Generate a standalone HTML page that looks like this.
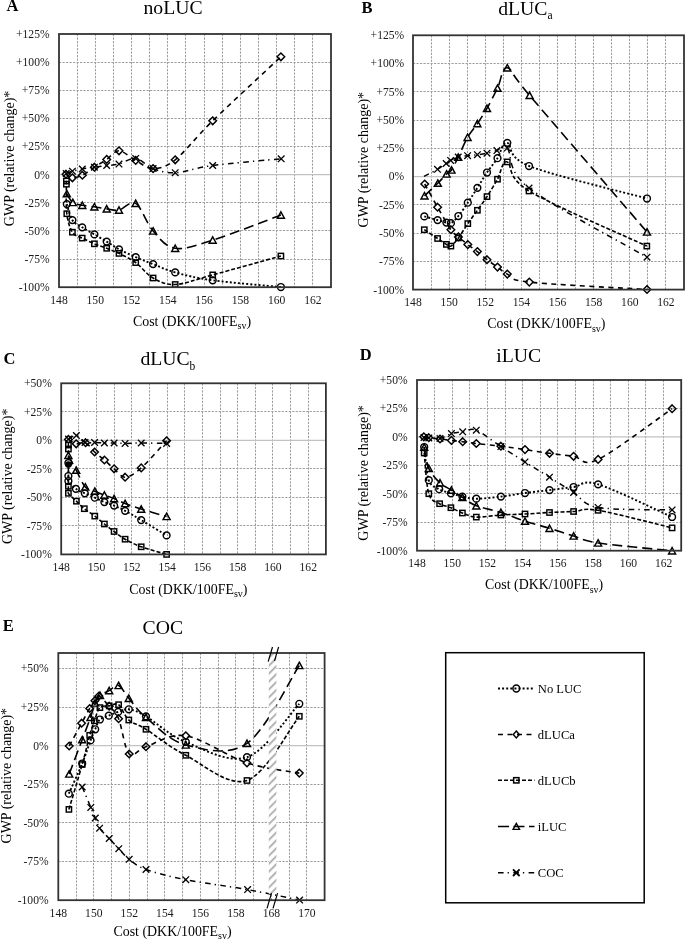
<!DOCTYPE html>
<html><head><meta charset="utf-8"><title>Figure</title>
<style>html,body{margin:0;padding:0;background:#fff;}svg{display:block;will-change:transform;}
text{font-family:"Liberation Serif", serif;}</style></head><body>
<svg width="685" height="940" viewBox="0 0 685 940">
<rect width="685" height="940" fill="#fff"/>
<path d="M77.5 34V287.2M95.5 34V287.2M113.5 34V287.2M131.5 34V287.2M149.5 34V287.2M167.5 34V287.2M185.5 34V287.2M204.5 34V287.2M222.5 34V287.2M240.5 34V287.2M258.5 34V287.2M276.5 34V287.2M294.5 34V287.2M312.5 34V287.2M59 62.5H331M59 90.5H331M59 118.5H331M59 146.5H331M59 202.5H331M59 230.5H331M59 259.5H331" stroke="#9e9e9e" stroke-width="1.05" stroke-dasharray="2.2 1.3" fill="none"/>
<path d="M59 174.67H331" stroke="#c2c2c2" stroke-width="1.3" fill="none"/>
<path d="M66.8 204.1C67.73 206.77 69.83 216.23 72.4 220.1C74.97 223.97 78.53 224.92 82.2 227.3C85.87 229.68 90.32 232.02 94.4 234.4C98.48 236.78 102.6 239.12 106.7 241.6C110.8 244.08 114.17 246.72 119 249.3C123.83 251.88 130.02 254.63 135.7 257.1C141.38 259.57 146.52 261.55 153.1 264.1C159.68 266.65 165.27 269.7 175.2 272.4C185.13 275.1 195.08 277.87 212.7 280.3C230.32 282.73 269.53 285.88 280.9 287" fill="none" stroke="#000" stroke-width="1.9" stroke-dasharray="2 2.1"/>
<path d="M66 174.2C67.07 174.8 69.67 177.63 72.4 177.8C75.13 177.97 78.73 176.97 82.4 175.2C86.07 173.43 90.35 169.83 94.4 167.2C98.45 164.57 102.6 162.13 106.7 159.4C110.8 156.67 114.17 150.63 119 150.8C123.83 150.97 130.02 157.43 135.7 160.4C141.38 163.37 146.52 168.7 153.1 168.6C159.68 168.5 165.27 167.77 175.2 159.8C185.13 151.83 195.08 137.97 212.7 120.8C230.32 103.63 269.53 67.47 280.9 56.8" fill="none" stroke="#000" stroke-width="1.6" stroke-dasharray="5 4.5"/>
<path d="M66.4 181C66.4 181.53 66.33 178.75 66.4 184.2C66.47 189.65 65.8 205.7 66.8 213.7C67.8 221.7 69.83 228.13 72.4 232.2C74.97 236.27 78.53 236.17 82.2 238.1C85.87 240.03 90.32 242.1 94.4 243.8C98.48 245.5 102.6 246.7 106.7 248.3C110.8 249.9 114.17 251.02 119 253.4C123.83 255.78 130.02 258.5 135.7 262.6C141.38 266.7 146.52 274.35 153.1 278C159.68 281.65 165.27 285.02 175.2 284.5C185.13 283.98 195.08 279.65 212.7 274.9C230.32 270.15 269.53 259.15 280.9 256" fill="none" stroke="#000" stroke-width="1.6" stroke-dasharray="4 2"/>
<path d="M66.8 193.7C67.8 195.17 70.22 200.57 72.8 202.5C75.38 204.43 78.7 204.58 82.3 205.3C85.9 206.02 90.33 206.2 94.4 206.8C98.47 207.4 102.6 208.35 106.7 208.9C110.8 209.45 114.17 211.02 119 210.1C123.83 209.18 130.02 199.92 135.7 203.4C141.38 206.88 146.52 223.52 153.1 231C159.68 238.48 165.27 246.78 175.2 248.3C185.13 249.82 195.08 245.63 212.7 240.1C230.32 234.57 269.53 219.27 280.9 215.1" fill="none" stroke="#000" stroke-width="1.6" stroke-dasharray="10 5"/>
<path d="M66.2 173.6C67.23 173.2 69.72 171.97 72.4 171.2C75.08 170.43 78.63 169.67 82.3 169C85.97 168.33 90.33 167.78 94.4 167.2C98.47 166.62 102.6 166.02 106.7 165.5C110.8 164.98 114.17 165.28 119 164.1C123.83 162.92 130.02 157.65 135.7 158.4C141.38 159.15 146.52 166.22 153.1 168.6C159.68 170.98 165.27 173.22 175.2 172.7C185.13 172.18 195.03 167.82 212.7 165.5C230.37 163.18 269.78 159.92 281.2 158.8" fill="none" stroke="#000" stroke-width="1.5" stroke-dasharray="5.6 4 1.3 4.4"/>
<circle cx="66.8" cy="204.1" r="3.4" fill="none" stroke="#000" stroke-width="1.45"/>
<circle cx="72.4" cy="220.1" r="3.4" fill="none" stroke="#000" stroke-width="1.45"/>
<circle cx="82.2" cy="227.3" r="3.4" fill="none" stroke="#000" stroke-width="1.45"/>
<circle cx="94.4" cy="234.4" r="3.4" fill="none" stroke="#000" stroke-width="1.45"/>
<circle cx="106.7" cy="241.6" r="3.4" fill="none" stroke="#000" stroke-width="1.45"/>
<circle cx="119" cy="249.3" r="3.4" fill="none" stroke="#000" stroke-width="1.45"/>
<circle cx="135.7" cy="257.1" r="3.4" fill="none" stroke="#000" stroke-width="1.45"/>
<circle cx="153.1" cy="264.1" r="3.4" fill="none" stroke="#000" stroke-width="1.45"/>
<circle cx="175.2" cy="272.4" r="3.4" fill="none" stroke="#000" stroke-width="1.45"/>
<circle cx="212.7" cy="280.3" r="3.4" fill="none" stroke="#000" stroke-width="1.45"/>
<circle cx="280.9" cy="287" r="3.4" fill="none" stroke="#000" stroke-width="1.45"/>
<path d="M66 170.4L69.8 174.2L66 178L62.2 174.2Z" fill="none" stroke="#000" stroke-width="1.45"/>
<path d="M72.4 174L76.2 177.8L72.4 181.6L68.6 177.8Z" fill="none" stroke="#000" stroke-width="1.45"/>
<path d="M82.4 171.4L86.2 175.2L82.4 179L78.6 175.2Z" fill="none" stroke="#000" stroke-width="1.45"/>
<path d="M94.4 163.4L98.2 167.2L94.4 171L90.6 167.2Z" fill="none" stroke="#000" stroke-width="1.45"/>
<path d="M106.7 155.6L110.5 159.4L106.7 163.2L102.9 159.4Z" fill="none" stroke="#000" stroke-width="1.45"/>
<path d="M119 147L122.8 150.8L119 154.6L115.2 150.8Z" fill="none" stroke="#000" stroke-width="1.45"/>
<path d="M135.7 156.6L139.5 160.4L135.7 164.2L131.9 160.4Z" fill="none" stroke="#000" stroke-width="1.45"/>
<path d="M153.1 164.8L156.9 168.6L153.1 172.4L149.3 168.6Z" fill="none" stroke="#000" stroke-width="1.45"/>
<path d="M175.2 156L179 159.8L175.2 163.6L171.4 159.8Z" fill="none" stroke="#000" stroke-width="1.45"/>
<path d="M212.7 117L216.5 120.8L212.7 124.6L208.9 120.8Z" fill="none" stroke="#000" stroke-width="1.45"/>
<path d="M280.9 53L284.7 56.8L280.9 60.6L277.1 56.8Z" fill="none" stroke="#000" stroke-width="1.45"/>
<rect x="63.75" y="178.35" width="5.3" height="5.3" fill="none" stroke="#000" stroke-width="1.45"/>
<rect x="63.75" y="181.55" width="5.3" height="5.3" fill="none" stroke="#000" stroke-width="1.45"/>
<rect x="64.15" y="211.05" width="5.3" height="5.3" fill="none" stroke="#000" stroke-width="1.45"/>
<rect x="69.75" y="229.55" width="5.3" height="5.3" fill="none" stroke="#000" stroke-width="1.45"/>
<rect x="79.55" y="235.45" width="5.3" height="5.3" fill="none" stroke="#000" stroke-width="1.45"/>
<rect x="91.75" y="241.15" width="5.3" height="5.3" fill="none" stroke="#000" stroke-width="1.45"/>
<rect x="104.05" y="245.65" width="5.3" height="5.3" fill="none" stroke="#000" stroke-width="1.45"/>
<rect x="116.35" y="250.75" width="5.3" height="5.3" fill="none" stroke="#000" stroke-width="1.45"/>
<rect x="133.05" y="259.95" width="5.3" height="5.3" fill="none" stroke="#000" stroke-width="1.45"/>
<rect x="150.45" y="275.35" width="5.3" height="5.3" fill="none" stroke="#000" stroke-width="1.45"/>
<rect x="172.55" y="281.85" width="5.3" height="5.3" fill="none" stroke="#000" stroke-width="1.45"/>
<rect x="210.05" y="272.25" width="5.3" height="5.3" fill="none" stroke="#000" stroke-width="1.45"/>
<rect x="278.25" y="253.35" width="5.3" height="5.3" fill="none" stroke="#000" stroke-width="1.45"/>
<path d="M66.8 190.4L70.3 196.8L63.3 196.8Z" fill="none" stroke="#000" stroke-width="1.45" stroke-linejoin="miter"/>
<path d="M72.8 199.2L76.3 205.6L69.3 205.6Z" fill="none" stroke="#000" stroke-width="1.45" stroke-linejoin="miter"/>
<path d="M82.3 202L85.8 208.4L78.8 208.4Z" fill="none" stroke="#000" stroke-width="1.45" stroke-linejoin="miter"/>
<path d="M94.4 203.5L97.9 209.9L90.9 209.9Z" fill="none" stroke="#000" stroke-width="1.45" stroke-linejoin="miter"/>
<path d="M106.7 205.6L110.2 212L103.2 212Z" fill="none" stroke="#000" stroke-width="1.45" stroke-linejoin="miter"/>
<path d="M119 206.8L122.5 213.2L115.5 213.2Z" fill="none" stroke="#000" stroke-width="1.45" stroke-linejoin="miter"/>
<path d="M135.7 200.1L139.2 206.5L132.2 206.5Z" fill="none" stroke="#000" stroke-width="1.45" stroke-linejoin="miter"/>
<path d="M153.1 227.7L156.6 234.1L149.6 234.1Z" fill="none" stroke="#000" stroke-width="1.45" stroke-linejoin="miter"/>
<path d="M175.2 245L178.7 251.4L171.7 251.4Z" fill="none" stroke="#000" stroke-width="1.45" stroke-linejoin="miter"/>
<path d="M212.7 236.8L216.2 243.2L209.2 243.2Z" fill="none" stroke="#000" stroke-width="1.45" stroke-linejoin="miter"/>
<path d="M280.9 211.8L284.4 218.2L277.4 218.2Z" fill="none" stroke="#000" stroke-width="1.45" stroke-linejoin="miter"/>
<path d="M62.9 170.3L69.5 176.9M62.9 176.9L69.5 170.3" fill="none" stroke="#000" stroke-width="1.3"/>
<path d="M69.1 167.9L75.7 174.5M69.1 174.5L75.7 167.9" fill="none" stroke="#000" stroke-width="1.3"/>
<path d="M79 165.7L85.6 172.3M79 172.3L85.6 165.7" fill="none" stroke="#000" stroke-width="1.3"/>
<path d="M91.1 163.9L97.7 170.5M91.1 170.5L97.7 163.9" fill="none" stroke="#000" stroke-width="1.3"/>
<path d="M103.4 162.2L110 168.8M103.4 168.8L110 162.2" fill="none" stroke="#000" stroke-width="1.3"/>
<path d="M115.7 160.8L122.3 167.4M115.7 167.4L122.3 160.8" fill="none" stroke="#000" stroke-width="1.3"/>
<path d="M132.4 155.1L139 161.7M132.4 161.7L139 155.1" fill="none" stroke="#000" stroke-width="1.3"/>
<path d="M149.8 165.3L156.4 171.9M149.8 171.9L156.4 165.3" fill="none" stroke="#000" stroke-width="1.3"/>
<path d="M171.9 169.4L178.5 176M171.9 176L178.5 169.4" fill="none" stroke="#000" stroke-width="1.3"/>
<path d="M209.4 162.2L216 168.8M209.4 168.8L216 162.2" fill="none" stroke="#000" stroke-width="1.3"/>
<path d="M277.9 155.5L284.5 162.1M277.9 162.1L284.5 155.5" fill="none" stroke="#000" stroke-width="1.3"/>
<rect x="59" y="34" width="272" height="253.2" fill="none" stroke="#333" stroke-width="1.8"/>
<text x="49.6" y="37.9" text-anchor="end" font-size="11.6" fill="#1a1a1a">+125%</text>
<text x="49.6" y="66.03" text-anchor="end" font-size="11.6" fill="#1a1a1a">+100%</text>
<text x="49.6" y="94.17" text-anchor="end" font-size="11.6" fill="#1a1a1a">+75%</text>
<text x="49.6" y="122.3" text-anchor="end" font-size="11.6" fill="#1a1a1a">+50%</text>
<text x="49.6" y="150.43" text-anchor="end" font-size="11.6" fill="#1a1a1a">+25%</text>
<text x="49.6" y="178.57" text-anchor="end" font-size="11.6" fill="#1a1a1a">0%</text>
<text x="49.6" y="206.7" text-anchor="end" font-size="11.6" fill="#1a1a1a">-25%</text>
<text x="49.6" y="234.83" text-anchor="end" font-size="11.6" fill="#1a1a1a">-50%</text>
<text x="49.6" y="262.97" text-anchor="end" font-size="11.6" fill="#1a1a1a">-75%</text>
<text x="49.6" y="291.1" text-anchor="end" font-size="11.6" fill="#1a1a1a">-100%</text>
<text x="59" y="304" text-anchor="middle" font-size="11.6" fill="#1a1a1a">148</text>
<text x="95.27" y="304" text-anchor="middle" font-size="11.6" fill="#1a1a1a">150</text>
<text x="131.53" y="304" text-anchor="middle" font-size="11.6" fill="#1a1a1a">152</text>
<text x="167.8" y="304" text-anchor="middle" font-size="11.6" fill="#1a1a1a">154</text>
<text x="204.07" y="304" text-anchor="middle" font-size="11.6" fill="#1a1a1a">156</text>
<text x="240.33" y="304" text-anchor="middle" font-size="11.6" fill="#1a1a1a">158</text>
<text x="276.6" y="304" text-anchor="middle" font-size="11.6" fill="#1a1a1a">160</text>
<text x="312.87" y="304" text-anchor="middle" font-size="11.6" fill="#1a1a1a">162</text>
<text x="6.6" y="10.9" font-size="16.5" font-weight="bold">A</text>
<text x="173" y="13.8" text-anchor="middle" font-size="19.7">noLUC</text>
<text x="133" y="325.8" font-size="13.9" fill="#000">Cost (DKK/100FE<tspan font-size="10.01" dy="3.2">sv</tspan><tspan dy="-3.2">)</tspan></text>
<text transform="translate(14.1 158.4) rotate(-90)" text-anchor="middle" font-size="14" fill="#000">GWP (relative change)*</text>
<path d="M431.5 35.3V289.6M449.5 35.3V289.6M467.5 35.3V289.6M485.5 35.3V289.6M503.5 35.3V289.6M521.5 35.3V289.6M539.5 35.3V289.6M557.5 35.3V289.6M575.5 35.3V289.6M593.5 35.3V289.6M611.5 35.3V289.6M629.5 35.3V289.6M647.5 35.3V289.6M665.5 35.3V289.6M413 63.5H684M413 91.5H684M413 120.5H684M413 148.5H684M413 204.5H684M413 233.5H684M413 261.5H684" stroke="#9e9e9e" stroke-width="1.05" stroke-dasharray="2.2 1.3" fill="none"/>
<path d="M413 176.58H684" stroke="#c2c2c2" stroke-width="1.3" fill="none"/>
<path d="M424.3 216.4C426.52 217.02 433.92 219.07 437.6 220.1C441.28 221.13 444.18 222.08 446.4 222.6C448.62 223.12 448.9 224.3 450.9 223.2C452.9 222.1 455.58 219.42 458.4 216C461.22 212.58 464.63 207.4 467.8 202.7C470.97 198 474.2 192.83 477.4 187.8C480.6 182.77 483.65 177.43 487 172.5C490.35 167.57 494.12 163.15 497.5 158.2C500.88 153.25 502.05 141.5 507.3 142.8C512.55 144.1 505.72 156.72 529 166C552.28 175.28 627.33 193.08 647 198.5" fill="none" stroke="#000" stroke-width="1.9" stroke-dasharray="2 2.1"/>
<path d="M424.7 184C426.85 187.87 433.23 199.58 437.6 207.2C441.97 214.82 447.43 224.75 450.9 229.7C454.37 234.65 455.58 234.42 458.4 236.9C461.22 239.38 464.63 242.15 467.8 244.6C470.97 247.05 474.2 249.08 477.4 251.6C480.6 254.12 483.65 257.12 487 259.7C490.35 262.28 494.12 264.7 497.5 267.1C500.88 269.5 502 271.6 507.3 274.1C512.6 276.6 506.02 279.53 529.3 282.1C552.58 284.67 627.38 288.27 647 289.5" fill="none" stroke="#000" stroke-width="1.6" stroke-dasharray="5 4.5"/>
<path d="M424.3 229.7C426.52 231.17 433.92 236.05 437.6 238.5C441.28 240.95 444.18 243.13 446.4 244.4C448.62 245.67 448.9 247.18 450.9 246.1C452.9 245.02 455.58 241.65 458.4 237.9C461.22 234.15 464.63 228.2 467.8 223.6C470.97 219 474.2 214.8 477.4 210.3C480.6 205.8 483.65 201.78 487 196.6C490.35 191.42 494.12 184.98 497.5 179.2C500.88 173.42 502.05 159.93 507.3 161.9C512.55 163.87 505.75 176.97 529 191C552.25 205.03 627.17 236.92 646.8 246.1" fill="none" stroke="#000" stroke-width="1.6" stroke-dasharray="4 2"/>
<path d="M424.5 195.8C426.72 193.7 434.12 186.83 437.8 183.2C441.48 179.57 444.32 176.2 446.6 174C448.88 171.8 449.57 172.8 451.5 170C453.43 167.2 455.52 162.65 458.2 157.2C460.88 151.75 464.4 142.9 467.6 137.3C470.8 131.7 474.17 128.43 477.4 123.6C480.63 118.77 483.65 114.2 487 108.3C490.35 102.4 494.12 94.95 497.5 88.2C500.88 81.45 501.95 66.6 507.3 67.8C512.65 69 506.32 68.03 529.6 95.4C552.88 122.77 627.43 209.23 647 232" fill="none" stroke="#000" stroke-width="1.6" stroke-dasharray="10 5"/>
<path d="M424 176.4C426.25 175.22 433.8 171.45 437.5 169.3C441.2 167.15 444.02 164.98 446.2 163.5C448.38 162.02 448.6 161.48 450.6 160.4C452.6 159.32 455.37 157.78 458.2 157C461.03 156.22 464.4 156.08 467.6 155.7C470.8 155.32 474.17 155.12 477.4 154.7C480.63 154.28 483.75 153.88 487 153.2C490.25 152.52 493.52 151.45 496.9 150.6C500.28 149.75 501.95 141.87 507.3 148.1C512.65 154.33 505.72 169.82 529 188C552.28 206.18 627.33 245.67 647 257.2" fill="none" stroke="#000" stroke-width="1.5" stroke-dasharray="5.6 4 1.3 4.4"/>
<circle cx="424.3" cy="216.4" r="3.4" fill="none" stroke="#000" stroke-width="1.45"/>
<circle cx="437.6" cy="220.1" r="3.4" fill="none" stroke="#000" stroke-width="1.45"/>
<circle cx="446.4" cy="222.6" r="3.4" fill="none" stroke="#000" stroke-width="1.45"/>
<circle cx="450.9" cy="223.2" r="3.4" fill="none" stroke="#000" stroke-width="1.45"/>
<circle cx="458.4" cy="216" r="3.4" fill="none" stroke="#000" stroke-width="1.45"/>
<circle cx="467.8" cy="202.7" r="3.4" fill="none" stroke="#000" stroke-width="1.45"/>
<circle cx="477.4" cy="187.8" r="3.4" fill="none" stroke="#000" stroke-width="1.45"/>
<circle cx="487" cy="172.5" r="3.4" fill="none" stroke="#000" stroke-width="1.45"/>
<circle cx="497.5" cy="158.2" r="3.4" fill="none" stroke="#000" stroke-width="1.45"/>
<circle cx="507.3" cy="142.8" r="3.4" fill="none" stroke="#000" stroke-width="1.45"/>
<circle cx="529" cy="166" r="3.4" fill="none" stroke="#000" stroke-width="1.45"/>
<circle cx="647" cy="198.5" r="3.4" fill="none" stroke="#000" stroke-width="1.45"/>
<path d="M424.7 180.2L428.5 184L424.7 187.8L420.9 184Z" fill="none" stroke="#000" stroke-width="1.45"/>
<path d="M437.6 203.4L441.4 207.2L437.6 211L433.8 207.2Z" fill="none" stroke="#000" stroke-width="1.45"/>
<path d="M450.9 225.9L454.7 229.7L450.9 233.5L447.1 229.7Z" fill="none" stroke="#000" stroke-width="1.45"/>
<path d="M458.4 233.1L462.2 236.9L458.4 240.7L454.6 236.9Z" fill="none" stroke="#000" stroke-width="1.45"/>
<path d="M467.8 240.8L471.6 244.6L467.8 248.4L464 244.6Z" fill="none" stroke="#000" stroke-width="1.45"/>
<path d="M477.4 247.8L481.2 251.6L477.4 255.4L473.6 251.6Z" fill="none" stroke="#000" stroke-width="1.45"/>
<path d="M487 255.9L490.8 259.7L487 263.5L483.2 259.7Z" fill="none" stroke="#000" stroke-width="1.45"/>
<path d="M497.5 263.3L501.3 267.1L497.5 270.9L493.7 267.1Z" fill="none" stroke="#000" stroke-width="1.45"/>
<path d="M507.3 270.3L511.1 274.1L507.3 277.9L503.5 274.1Z" fill="none" stroke="#000" stroke-width="1.45"/>
<path d="M529.3 278.3L533.1 282.1L529.3 285.9L525.5 282.1Z" fill="none" stroke="#000" stroke-width="1.45"/>
<path d="M647 285.7L650.8 289.5L647 293.3L643.2 289.5Z" fill="none" stroke="#000" stroke-width="1.45"/>
<rect x="421.65" y="227.05" width="5.3" height="5.3" fill="none" stroke="#000" stroke-width="1.45"/>
<rect x="434.95" y="235.85" width="5.3" height="5.3" fill="none" stroke="#000" stroke-width="1.45"/>
<rect x="443.75" y="241.75" width="5.3" height="5.3" fill="none" stroke="#000" stroke-width="1.45"/>
<rect x="448.25" y="243.45" width="5.3" height="5.3" fill="none" stroke="#000" stroke-width="1.45"/>
<rect x="455.75" y="235.25" width="5.3" height="5.3" fill="none" stroke="#000" stroke-width="1.45"/>
<rect x="465.15" y="220.95" width="5.3" height="5.3" fill="none" stroke="#000" stroke-width="1.45"/>
<rect x="474.75" y="207.65" width="5.3" height="5.3" fill="none" stroke="#000" stroke-width="1.45"/>
<rect x="484.35" y="193.95" width="5.3" height="5.3" fill="none" stroke="#000" stroke-width="1.45"/>
<rect x="494.85" y="176.55" width="5.3" height="5.3" fill="none" stroke="#000" stroke-width="1.45"/>
<rect x="504.65" y="159.25" width="5.3" height="5.3" fill="none" stroke="#000" stroke-width="1.45"/>
<rect x="526.35" y="188.35" width="5.3" height="5.3" fill="none" stroke="#000" stroke-width="1.45"/>
<rect x="644.15" y="243.45" width="5.3" height="5.3" fill="none" stroke="#000" stroke-width="1.45"/>
<path d="M424.5 192.5L428 198.9L421 198.9Z" fill="none" stroke="#000" stroke-width="1.45" stroke-linejoin="miter"/>
<path d="M437.8 179.9L441.3 186.3L434.3 186.3Z" fill="none" stroke="#000" stroke-width="1.45" stroke-linejoin="miter"/>
<path d="M446.6 170.7L450.1 177.1L443.1 177.1Z" fill="none" stroke="#000" stroke-width="1.45" stroke-linejoin="miter"/>
<path d="M451.5 166.7L455 173.1L448 173.1Z" fill="none" stroke="#000" stroke-width="1.45" stroke-linejoin="miter"/>
<path d="M458.2 153.9L461.7 160.3L454.7 160.3Z" fill="none" stroke="#000" stroke-width="1.45" stroke-linejoin="miter"/>
<path d="M467.6 134L471.1 140.4L464.1 140.4Z" fill="none" stroke="#000" stroke-width="1.45" stroke-linejoin="miter"/>
<path d="M477.4 120.3L480.9 126.7L473.9 126.7Z" fill="none" stroke="#000" stroke-width="1.45" stroke-linejoin="miter"/>
<path d="M487 105L490.5 111.4L483.5 111.4Z" fill="none" stroke="#000" stroke-width="1.45" stroke-linejoin="miter"/>
<path d="M497.5 84.9L501 91.3L494 91.3Z" fill="none" stroke="#000" stroke-width="1.45" stroke-linejoin="miter"/>
<path d="M507.3 64.5L510.8 70.9L503.8 70.9Z" fill="none" stroke="#000" stroke-width="1.45" stroke-linejoin="miter"/>
<path d="M529.6 92.1L533.1 98.5L526.1 98.5Z" fill="none" stroke="#000" stroke-width="1.45" stroke-linejoin="miter"/>
<path d="M647 228.7L650.5 235.1L643.5 235.1Z" fill="none" stroke="#000" stroke-width="1.45" stroke-linejoin="miter"/>
<path d="M434.2 166L440.8 172.6M434.2 172.6L440.8 166" fill="none" stroke="#000" stroke-width="1.3"/>
<path d="M442.9 160.2L449.5 166.8M442.9 166.8L449.5 160.2" fill="none" stroke="#000" stroke-width="1.3"/>
<path d="M447.3 157.1L453.9 163.7M447.3 163.7L453.9 157.1" fill="none" stroke="#000" stroke-width="1.3"/>
<path d="M454.9 153.7L461.5 160.3M454.9 160.3L461.5 153.7" fill="none" stroke="#000" stroke-width="1.3"/>
<path d="M464.3 152.4L470.9 159M464.3 159L470.9 152.4" fill="none" stroke="#000" stroke-width="1.3"/>
<path d="M474.1 151.4L480.7 158M474.1 158L480.7 151.4" fill="none" stroke="#000" stroke-width="1.3"/>
<path d="M483.7 149.9L490.3 156.5M483.7 156.5L490.3 149.9" fill="none" stroke="#000" stroke-width="1.3"/>
<path d="M493.6 147.3L500.2 153.9M493.6 153.9L500.2 147.3" fill="none" stroke="#000" stroke-width="1.3"/>
<path d="M504 144.8L510.6 151.4M504 151.4L510.6 144.8" fill="none" stroke="#000" stroke-width="1.3"/>
<path d="M525.7 184.7L532.3 191.3M525.7 191.3L532.3 184.7" fill="none" stroke="#000" stroke-width="1.3"/>
<path d="M643.7 253.9L650.3 260.5M643.7 260.5L650.3 253.9" fill="none" stroke="#000" stroke-width="1.3"/>
<rect x="413" y="35.3" width="271" height="254.3" fill="none" stroke="#333" stroke-width="1.8"/>
<text x="404.2" y="39.2" text-anchor="end" font-size="11.6" fill="#1a1a1a">+125%</text>
<text x="404.2" y="67.46" text-anchor="end" font-size="11.6" fill="#1a1a1a">+100%</text>
<text x="404.2" y="95.71" text-anchor="end" font-size="11.6" fill="#1a1a1a">+75%</text>
<text x="404.2" y="123.97" text-anchor="end" font-size="11.6" fill="#1a1a1a">+50%</text>
<text x="404.2" y="152.22" text-anchor="end" font-size="11.6" fill="#1a1a1a">+25%</text>
<text x="404.2" y="180.48" text-anchor="end" font-size="11.6" fill="#1a1a1a">0%</text>
<text x="404.2" y="208.73" text-anchor="end" font-size="11.6" fill="#1a1a1a">-25%</text>
<text x="404.2" y="236.99" text-anchor="end" font-size="11.6" fill="#1a1a1a">-50%</text>
<text x="404.2" y="265.24" text-anchor="end" font-size="11.6" fill="#1a1a1a">-75%</text>
<text x="404.2" y="293.5" text-anchor="end" font-size="11.6" fill="#1a1a1a">-100%</text>
<text x="413" y="306.4" text-anchor="middle" font-size="11.6" fill="#1a1a1a">148</text>
<text x="449.13" y="306.4" text-anchor="middle" font-size="11.6" fill="#1a1a1a">150</text>
<text x="485.27" y="306.4" text-anchor="middle" font-size="11.6" fill="#1a1a1a">152</text>
<text x="521.4" y="306.4" text-anchor="middle" font-size="11.6" fill="#1a1a1a">154</text>
<text x="557.53" y="306.4" text-anchor="middle" font-size="11.6" fill="#1a1a1a">156</text>
<text x="593.67" y="306.4" text-anchor="middle" font-size="11.6" fill="#1a1a1a">158</text>
<text x="629.8" y="306.4" text-anchor="middle" font-size="11.6" fill="#1a1a1a">160</text>
<text x="665.93" y="306.4" text-anchor="middle" font-size="11.6" fill="#1a1a1a">162</text>
<text x="361.6" y="12.5" font-size="16.5" font-weight="bold">B</text>
<text x="498.2" y="14.8" font-size="19.7">dLUC<tspan font-size="11.5" dy="4.6">a</tspan></text>
<text x="487.3" y="328.3" font-size="13.9" fill="#000">Cost (DKK/100FE<tspan font-size="10.01" dy="3.2">sv</tspan><tspan dy="-3.2">)</tspan></text>
<text transform="translate(368.2 159.7) rotate(-90)" text-anchor="middle" font-size="14" fill="#000">GWP (relative change)*</text>
<path d="M78.5 383.3V554.4M96.5 383.3V554.4M114.5 383.3V554.4M131.5 383.3V554.4M149.5 383.3V554.4M167.5 383.3V554.4M184.5 383.3V554.4M202.5 383.3V554.4M220.5 383.3V554.4M237.5 383.3V554.4M255.5 383.3V554.4M272.5 383.3V554.4M290.5 383.3V554.4M308.5 383.3V554.4M61.2 411.5H325.9M61.2 468.5H325.9M61.2 497.5H325.9M61.2 525.5H325.9" stroke="#9e9e9e" stroke-width="1.05" stroke-dasharray="2.2 1.3" fill="none"/>
<path d="M61.2 440.33H325.9" stroke="#c2c2c2" stroke-width="1.3" fill="none"/>
<path d="M68.4 463C68.4 465.17 68.4 473 68.4 476C68.4 479 67.15 478.87 68.4 481C69.65 483.13 73.17 486.75 75.9 488.8C78.63 490.85 81.65 491.82 84.8 493.3C87.95 494.78 91.53 496.23 94.8 497.7C98.07 499.17 101.18 500.78 104.4 502.1C107.62 503.42 110.65 504.15 114.1 505.6C117.55 507.05 120.58 508.38 125.1 510.8C129.62 513.22 134.28 516 141.2 520.1C148.12 524.2 162.37 532.85 166.6 535.4" fill="none" stroke="#000" stroke-width="1.9" stroke-dasharray="2 2.1"/>
<path d="M68.4 439.4C69.7 440.13 73.33 443.25 76.2 443.8C79.07 444.35 82.53 441.33 85.6 442.7C88.67 444.07 91.47 449.12 94.6 452C97.73 454.88 101.15 457.2 104.4 460C107.65 462.8 110.65 465.93 114.1 468.8C117.55 471.67 120.58 477.35 125.1 477.2C129.62 477.05 134.28 473.97 141.2 467.9C148.12 461.83 162.37 445.32 166.6 440.8" fill="none" stroke="#000" stroke-width="1.6" stroke-dasharray="5 4.5"/>
<path d="M68.4 445C68.4 445.67 68.4 442.12 68.4 449C68.4 455.88 68.4 478.92 68.4 486.3C68.4 493.68 67.07 490.82 68.4 493.3C69.73 495.78 73.75 498.63 76.4 501.2C79.05 503.77 81.23 506.22 84.3 508.7C87.37 511.18 91.45 513.55 94.8 516.1C98.15 518.65 101.18 521.43 104.4 524C107.62 526.57 110.65 528.97 114.1 531.5C117.55 534.03 120.58 536.65 125.1 539.2C129.62 541.75 134.28 544.27 141.2 546.8C148.12 549.33 162.37 553.13 166.6 554.4" fill="none" stroke="#000" stroke-width="1.6" stroke-dasharray="4 2"/>
<path d="M68.4 455.3C69.7 457.78 73.38 464.92 76.2 470.2C79.02 475.48 82.2 483.5 85.3 487C88.4 490.5 91.62 489.85 94.8 491.2C97.98 492.55 101.18 493.87 104.4 495.1C107.62 496.33 110.65 497.2 114.1 498.6C117.55 500 120.58 501.75 125.1 503.5C129.62 505.25 134.28 506.93 141.2 509.1C148.12 511.27 162.37 515.27 166.6 516.5" fill="none" stroke="#000" stroke-width="1.6" stroke-dasharray="10 5"/>
<path d="M68.5 439C69.82 438.42 73.65 434.92 76.4 435.5C79.15 436.08 81.97 441.33 85 442.5C88.03 443.67 91.37 442.42 94.6 442.5C97.83 442.58 101.15 442.92 104.4 443C107.65 443.08 110.65 442.93 114.1 443C117.55 443.07 120.58 443.4 125.1 443.4C129.62 443.4 134.28 443 141.2 443C148.12 443 162.37 443.33 166.6 443.4" fill="none" stroke="#000" stroke-width="1.5" stroke-dasharray="5.6 4 1.3 4.4"/>
<circle cx="68.4" cy="463" r="3.4" fill="none" stroke="#000" stroke-width="1.45"/>
<circle cx="68.4" cy="476" r="3.4" fill="none" stroke="#000" stroke-width="1.45"/>
<circle cx="68.4" cy="481" r="3.4" fill="none" stroke="#000" stroke-width="1.45"/>
<circle cx="75.9" cy="488.8" r="3.4" fill="none" stroke="#000" stroke-width="1.45"/>
<circle cx="84.8" cy="493.3" r="3.4" fill="none" stroke="#000" stroke-width="1.45"/>
<circle cx="94.8" cy="497.7" r="3.4" fill="none" stroke="#000" stroke-width="1.45"/>
<circle cx="104.4" cy="502.1" r="3.4" fill="none" stroke="#000" stroke-width="1.45"/>
<circle cx="114.1" cy="505.6" r="3.4" fill="none" stroke="#000" stroke-width="1.45"/>
<circle cx="125.1" cy="510.8" r="3.4" fill="none" stroke="#000" stroke-width="1.45"/>
<circle cx="141.2" cy="520.1" r="3.4" fill="none" stroke="#000" stroke-width="1.45"/>
<circle cx="166.6" cy="535.4" r="3.4" fill="none" stroke="#000" stroke-width="1.45"/>
<path d="M68.4 435.6L72.2 439.4L68.4 443.2L64.6 439.4Z" fill="none" stroke="#000" stroke-width="1.45"/>
<path d="M76.2 440L80 443.8L76.2 447.6L72.4 443.8Z" fill="none" stroke="#000" stroke-width="1.45"/>
<path d="M85.6 438.9L89.4 442.7L85.6 446.5L81.8 442.7Z" fill="none" stroke="#000" stroke-width="1.45"/>
<path d="M94.6 448.2L98.4 452L94.6 455.8L90.8 452Z" fill="none" stroke="#000" stroke-width="1.45"/>
<path d="M104.4 456.2L108.2 460L104.4 463.8L100.6 460Z" fill="none" stroke="#000" stroke-width="1.45"/>
<path d="M114.1 465L117.9 468.8L114.1 472.6L110.3 468.8Z" fill="none" stroke="#000" stroke-width="1.45"/>
<path d="M125.1 473.4L128.9 477.2L125.1 481L121.3 477.2Z" fill="none" stroke="#000" stroke-width="1.45"/>
<path d="M141.2 464.1L145 467.9L141.2 471.7L137.4 467.9Z" fill="none" stroke="#000" stroke-width="1.45"/>
<path d="M166.6 437L170.4 440.8L166.6 444.6L162.8 440.8Z" fill="none" stroke="#000" stroke-width="1.45"/>
<rect x="65.75" y="442.35" width="5.3" height="5.3" fill="none" stroke="#000" stroke-width="1.45"/>
<rect x="65.75" y="446.35" width="5.3" height="5.3" fill="none" stroke="#000" stroke-width="1.45"/>
<rect x="65.75" y="483.65" width="5.3" height="5.3" fill="none" stroke="#000" stroke-width="1.45"/>
<rect x="65.75" y="490.65" width="5.3" height="5.3" fill="none" stroke="#000" stroke-width="1.45"/>
<rect x="73.75" y="498.55" width="5.3" height="5.3" fill="none" stroke="#000" stroke-width="1.45"/>
<rect x="81.65" y="506.05" width="5.3" height="5.3" fill="none" stroke="#000" stroke-width="1.45"/>
<rect x="92.15" y="513.45" width="5.3" height="5.3" fill="none" stroke="#000" stroke-width="1.45"/>
<rect x="101.75" y="521.35" width="5.3" height="5.3" fill="none" stroke="#000" stroke-width="1.45"/>
<rect x="111.45" y="528.85" width="5.3" height="5.3" fill="none" stroke="#000" stroke-width="1.45"/>
<rect x="122.45" y="536.55" width="5.3" height="5.3" fill="none" stroke="#000" stroke-width="1.45"/>
<rect x="138.55" y="544.15" width="5.3" height="5.3" fill="none" stroke="#000" stroke-width="1.45"/>
<rect x="163.95" y="551.75" width="5.3" height="5.3" fill="none" stroke="#000" stroke-width="1.45"/>
<path d="M68.4 452L71.9 458.4L64.9 458.4Z" fill="none" stroke="#000" stroke-width="1.45" stroke-linejoin="miter"/>
<path d="M76.2 466.9L79.7 473.3L72.7 473.3Z" fill="none" stroke="#000" stroke-width="1.45" stroke-linejoin="miter"/>
<path d="M85.3 483.7L88.8 490.1L81.8 490.1Z" fill="none" stroke="#000" stroke-width="1.45" stroke-linejoin="miter"/>
<path d="M94.8 487.9L98.3 494.3L91.3 494.3Z" fill="none" stroke="#000" stroke-width="1.45" stroke-linejoin="miter"/>
<path d="M104.4 491.8L107.9 498.2L100.9 498.2Z" fill="none" stroke="#000" stroke-width="1.45" stroke-linejoin="miter"/>
<path d="M114.1 495.3L117.6 501.7L110.6 501.7Z" fill="none" stroke="#000" stroke-width="1.45" stroke-linejoin="miter"/>
<path d="M125.1 500.2L128.6 506.6L121.6 506.6Z" fill="none" stroke="#000" stroke-width="1.45" stroke-linejoin="miter"/>
<path d="M141.2 505.8L144.7 512.2L137.7 512.2Z" fill="none" stroke="#000" stroke-width="1.45" stroke-linejoin="miter"/>
<path d="M166.6 513.2L170.1 519.6L163.1 519.6Z" fill="none" stroke="#000" stroke-width="1.45" stroke-linejoin="miter"/>
<path d="M65.2 435.7L71.8 442.3M65.2 442.3L71.8 435.7" fill="none" stroke="#000" stroke-width="1.3"/>
<path d="M73.1 432.2L79.7 438.8M73.1 438.8L79.7 432.2" fill="none" stroke="#000" stroke-width="1.3"/>
<path d="M81.7 439.2L88.3 445.8M81.7 445.8L88.3 439.2" fill="none" stroke="#000" stroke-width="1.3"/>
<path d="M91.3 439.2L97.9 445.8M91.3 445.8L97.9 439.2" fill="none" stroke="#000" stroke-width="1.3"/>
<path d="M101.1 439.7L107.7 446.3M101.1 446.3L107.7 439.7" fill="none" stroke="#000" stroke-width="1.3"/>
<path d="M110.8 439.7L117.4 446.3M110.8 446.3L117.4 439.7" fill="none" stroke="#000" stroke-width="1.3"/>
<path d="M121.8 440.1L128.4 446.7M121.8 446.7L128.4 440.1" fill="none" stroke="#000" stroke-width="1.3"/>
<path d="M137.9 439.7L144.5 446.3M137.9 446.3L144.5 439.7" fill="none" stroke="#000" stroke-width="1.3"/>
<path d="M163.3 440.1L169.9 446.7M163.3 446.7L169.9 440.1" fill="none" stroke="#000" stroke-width="1.3"/>
<circle cx="68.4" cy="464.5" r="3.3" fill="#000"/>
<rect x="61.2" y="383.3" width="264.7" height="171.1" fill="none" stroke="#333" stroke-width="1.8"/>
<text x="51.8" y="387.2" text-anchor="end" font-size="11.6" fill="#1a1a1a">+50%</text>
<text x="51.8" y="415.72" text-anchor="end" font-size="11.6" fill="#1a1a1a">+25%</text>
<text x="51.8" y="444.23" text-anchor="end" font-size="11.6" fill="#1a1a1a">0%</text>
<text x="51.8" y="472.75" text-anchor="end" font-size="11.6" fill="#1a1a1a">-25%</text>
<text x="51.8" y="501.27" text-anchor="end" font-size="11.6" fill="#1a1a1a">-50%</text>
<text x="51.8" y="529.78" text-anchor="end" font-size="11.6" fill="#1a1a1a">-75%</text>
<text x="51.8" y="558.3" text-anchor="end" font-size="11.6" fill="#1a1a1a">-100%</text>
<text x="61.2" y="570.9" text-anchor="middle" font-size="11.6" fill="#1a1a1a">148</text>
<text x="96.49" y="570.9" text-anchor="middle" font-size="11.6" fill="#1a1a1a">150</text>
<text x="131.79" y="570.9" text-anchor="middle" font-size="11.6" fill="#1a1a1a">152</text>
<text x="167.08" y="570.9" text-anchor="middle" font-size="11.6" fill="#1a1a1a">154</text>
<text x="202.37" y="570.9" text-anchor="middle" font-size="11.6" fill="#1a1a1a">156</text>
<text x="237.67" y="570.9" text-anchor="middle" font-size="11.6" fill="#1a1a1a">158</text>
<text x="272.96" y="570.9" text-anchor="middle" font-size="11.6" fill="#1a1a1a">160</text>
<text x="308.25" y="570.9" text-anchor="middle" font-size="11.6" fill="#1a1a1a">162</text>
<text x="3.6" y="364" font-size="16.5" font-weight="bold">C</text>
<text x="140.4" y="364.9" font-size="19.7">dLUC<tspan font-size="11.5" dy="4.6">b</tspan></text>
<text x="129.3" y="593.7" font-size="13.9" fill="#000">Cost (DKK/100FE<tspan font-size="10.01" dy="3.2">sv</tspan><tspan dy="-3.2">)</tspan></text>
<text transform="translate(11.8 476.3) rotate(-90)" text-anchor="middle" font-size="14" fill="#000">GWP (relative change)*</text>
<path d="M434.5 380V550.7M452.5 380V550.7M469.5 380V550.7M487.5 380V550.7M505.5 380V550.7M522.5 380V550.7M540.5 380V550.7M557.5 380V550.7M575.5 380V550.7M593.5 380V550.7M610.5 380V550.7M628.5 380V550.7M645.5 380V550.7M663.5 380V550.7M417 408.5H681.2M417 465.5H681.2M417 493.5H681.2M417 522.5H681.2" stroke="#9e9e9e" stroke-width="1.05" stroke-dasharray="2.2 1.3" fill="none"/>
<path d="M417 436.9H681.2" stroke="#c2c2c2" stroke-width="1.3" fill="none"/>
<path d="M424.2 447C424.97 452.53 426.3 473.17 428.8 480.2C431.3 487.23 435.52 487.02 439.2 489.2C442.88 491.38 447.03 492.07 450.9 493.3C454.77 494.53 458.17 495.7 462.4 496.6C466.63 497.5 469.88 498.7 476.3 498.7C482.72 498.7 492.78 497.55 500.9 496.6C509.02 495.65 516.9 494.08 525 493C533.1 491.92 541.4 491.1 549.5 490.1C557.6 489.1 565.5 487.97 573.6 487C581.7 486.03 581.68 479.3 598.1 484.3C614.52 489.3 659.77 511.55 672.1 517" fill="none" stroke="#000" stroke-width="1.9" stroke-dasharray="2 2.1"/>
<path d="M423.8 436.8C424.63 436.95 426.1 437.33 428.8 437.7C431.5 438.07 436.23 438.55 440 439C443.77 439.45 447.62 439.95 451.4 440.4C455.18 440.85 458.55 441.18 462.7 441.7C466.85 442.22 469.93 442.75 476.3 443.5C482.67 444.25 492.78 445.18 500.9 446.2C509.02 447.22 516.9 448.42 525 449.6C533.1 450.78 541.4 452.18 549.5 453.3C557.6 454.42 565.5 455.28 573.6 456.3C581.7 457.32 581.68 467.33 598.1 459.4C614.52 451.47 659.77 417.15 672.1 408.7" fill="none" stroke="#000" stroke-width="1.6" stroke-dasharray="5 4.5"/>
<path d="M424.2 453C424.97 459.78 426.23 485.25 428.8 493.7C431.37 502.15 435.92 501.37 439.6 503.7C443.28 506.03 447.1 506.15 450.9 507.7C454.7 509.25 458.17 511.43 462.4 513C466.63 514.57 469.88 516.77 476.3 517.1C482.72 517.43 492.78 515.52 500.9 515C509.02 514.48 516.9 514.42 525 514C533.1 513.58 541.4 512.92 549.5 512.5C557.6 512.08 565.5 511.87 573.6 511.5C581.7 511.13 581.68 507.57 598.1 510.3C614.52 513.03 659.77 524.97 672.1 527.9" fill="none" stroke="#000" stroke-width="1.6" stroke-dasharray="4 2"/>
<path d="M424.2 447.2C424.97 450.73 426.17 462.45 428.8 468.4C431.43 474.35 436.23 479.28 440 482.9C443.77 486.52 447.67 487.7 451.4 490.1C455.13 492.5 458.25 494.68 462.4 497.3C466.55 499.92 469.88 503.28 476.3 505.8C482.72 508.32 492.78 509.83 500.9 512.4C509.02 514.97 516.9 518.55 525 521.2C533.1 523.85 541.4 525.83 549.5 528.3C557.6 530.77 565.5 533.55 573.6 536C581.7 538.45 581.68 540.53 598.1 543C614.52 545.47 659.77 549.5 672.1 550.8" fill="none" stroke="#000" stroke-width="1.6" stroke-dasharray="10 5"/>
<path d="M424 437.5C424.8 437.58 426.13 437.85 428.8 438C431.47 438.15 436.23 439.13 440 438.4C443.77 437.67 447.62 434.7 451.4 433.6C455.18 432.5 458.55 432.37 462.7 431.8C466.85 431.23 469.93 427.73 476.3 430.2C482.67 432.67 492.78 441.32 500.9 446.6C509.02 451.88 516.9 456.8 525 461.9C533.1 467 541.4 472.1 549.5 477.2C557.6 482.3 565.5 487.47 573.6 492.5C581.7 497.53 581.68 504.5 598.1 507.4C614.52 510.3 659.77 509.48 672.1 509.9" fill="none" stroke="#000" stroke-width="1.5" stroke-dasharray="5.6 4 1.3 4.4"/>
<circle cx="424.2" cy="447" r="3.4" fill="none" stroke="#000" stroke-width="1.45"/>
<circle cx="428.8" cy="480.2" r="3.4" fill="none" stroke="#000" stroke-width="1.45"/>
<circle cx="439.2" cy="489.2" r="3.4" fill="none" stroke="#000" stroke-width="1.45"/>
<circle cx="450.9" cy="493.3" r="3.4" fill="none" stroke="#000" stroke-width="1.45"/>
<circle cx="462.4" cy="496.6" r="3.4" fill="none" stroke="#000" stroke-width="1.45"/>
<circle cx="476.3" cy="498.7" r="3.4" fill="none" stroke="#000" stroke-width="1.45"/>
<circle cx="500.9" cy="496.6" r="3.4" fill="none" stroke="#000" stroke-width="1.45"/>
<circle cx="525" cy="493" r="3.4" fill="none" stroke="#000" stroke-width="1.45"/>
<circle cx="549.5" cy="490.1" r="3.4" fill="none" stroke="#000" stroke-width="1.45"/>
<circle cx="573.6" cy="487" r="3.4" fill="none" stroke="#000" stroke-width="1.45"/>
<circle cx="598.1" cy="484.3" r="3.4" fill="none" stroke="#000" stroke-width="1.45"/>
<circle cx="672.1" cy="517" r="3.4" fill="none" stroke="#000" stroke-width="1.45"/>
<path d="M423.8 433L427.6 436.8L423.8 440.6L420 436.8Z" fill="none" stroke="#000" stroke-width="1.45"/>
<path d="M428.8 433.9L432.6 437.7L428.8 441.5L425 437.7Z" fill="none" stroke="#000" stroke-width="1.45"/>
<path d="M440 435.2L443.8 439L440 442.8L436.2 439Z" fill="none" stroke="#000" stroke-width="1.45"/>
<path d="M451.4 436.6L455.2 440.4L451.4 444.2L447.6 440.4Z" fill="none" stroke="#000" stroke-width="1.45"/>
<path d="M462.7 437.9L466.5 441.7L462.7 445.5L458.9 441.7Z" fill="none" stroke="#000" stroke-width="1.45"/>
<path d="M476.3 439.7L480.1 443.5L476.3 447.3L472.5 443.5Z" fill="none" stroke="#000" stroke-width="1.45"/>
<path d="M500.9 442.4L504.7 446.2L500.9 450L497.1 446.2Z" fill="none" stroke="#000" stroke-width="1.45"/>
<path d="M525 445.8L528.8 449.6L525 453.4L521.2 449.6Z" fill="none" stroke="#000" stroke-width="1.45"/>
<path d="M549.5 449.5L553.3 453.3L549.5 457.1L545.7 453.3Z" fill="none" stroke="#000" stroke-width="1.45"/>
<path d="M573.6 452.5L577.4 456.3L573.6 460.1L569.8 456.3Z" fill="none" stroke="#000" stroke-width="1.45"/>
<path d="M598.1 455.6L601.9 459.4L598.1 463.2L594.3 459.4Z" fill="none" stroke="#000" stroke-width="1.45"/>
<path d="M672.1 404.9L675.9 408.7L672.1 412.5L668.3 408.7Z" fill="none" stroke="#000" stroke-width="1.45"/>
<rect x="421.55" y="450.35" width="5.3" height="5.3" fill="none" stroke="#000" stroke-width="1.45"/>
<rect x="426.15" y="491.05" width="5.3" height="5.3" fill="none" stroke="#000" stroke-width="1.45"/>
<rect x="436.95" y="501.05" width="5.3" height="5.3" fill="none" stroke="#000" stroke-width="1.45"/>
<rect x="448.25" y="505.05" width="5.3" height="5.3" fill="none" stroke="#000" stroke-width="1.45"/>
<rect x="459.75" y="510.35" width="5.3" height="5.3" fill="none" stroke="#000" stroke-width="1.45"/>
<rect x="473.65" y="514.45" width="5.3" height="5.3" fill="none" stroke="#000" stroke-width="1.45"/>
<rect x="498.25" y="512.35" width="5.3" height="5.3" fill="none" stroke="#000" stroke-width="1.45"/>
<rect x="522.35" y="511.35" width="5.3" height="5.3" fill="none" stroke="#000" stroke-width="1.45"/>
<rect x="546.85" y="509.85" width="5.3" height="5.3" fill="none" stroke="#000" stroke-width="1.45"/>
<rect x="570.95" y="508.85" width="5.3" height="5.3" fill="none" stroke="#000" stroke-width="1.45"/>
<rect x="595.45" y="507.65" width="5.3" height="5.3" fill="none" stroke="#000" stroke-width="1.45"/>
<rect x="669.45" y="525.25" width="5.3" height="5.3" fill="none" stroke="#000" stroke-width="1.45"/>
<path d="M424.2 443.9L427.7 450.3L420.7 450.3Z" fill="none" stroke="#000" stroke-width="1.45" stroke-linejoin="miter"/>
<path d="M428.8 465.1L432.3 471.5L425.3 471.5Z" fill="none" stroke="#000" stroke-width="1.45" stroke-linejoin="miter"/>
<path d="M440 479.6L443.5 486L436.5 486Z" fill="none" stroke="#000" stroke-width="1.45" stroke-linejoin="miter"/>
<path d="M451.4 486.8L454.9 493.2L447.9 493.2Z" fill="none" stroke="#000" stroke-width="1.45" stroke-linejoin="miter"/>
<path d="M462.4 494L465.9 500.4L458.9 500.4Z" fill="none" stroke="#000" stroke-width="1.45" stroke-linejoin="miter"/>
<path d="M476.3 502.5L479.8 508.9L472.8 508.9Z" fill="none" stroke="#000" stroke-width="1.45" stroke-linejoin="miter"/>
<path d="M500.9 509.1L504.4 515.5L497.4 515.5Z" fill="none" stroke="#000" stroke-width="1.45" stroke-linejoin="miter"/>
<path d="M525 517.9L528.5 524.3L521.5 524.3Z" fill="none" stroke="#000" stroke-width="1.45" stroke-linejoin="miter"/>
<path d="M549.5 525L553 531.4L546 531.4Z" fill="none" stroke="#000" stroke-width="1.45" stroke-linejoin="miter"/>
<path d="M573.6 532.7L577.1 539.1L570.1 539.1Z" fill="none" stroke="#000" stroke-width="1.45" stroke-linejoin="miter"/>
<path d="M598.1 539.7L601.6 546.1L594.6 546.1Z" fill="none" stroke="#000" stroke-width="1.45" stroke-linejoin="miter"/>
<path d="M672.1 547.5L675.6 553.9L668.6 553.9Z" fill="none" stroke="#000" stroke-width="1.45" stroke-linejoin="miter"/>
<path d="M420.7 434.2L427.3 440.8M420.7 440.8L427.3 434.2" fill="none" stroke="#000" stroke-width="1.3"/>
<path d="M425.5 434.7L432.1 441.3M425.5 441.3L432.1 434.7" fill="none" stroke="#000" stroke-width="1.3"/>
<path d="M436.7 435.1L443.3 441.7M436.7 441.7L443.3 435.1" fill="none" stroke="#000" stroke-width="1.3"/>
<path d="M448.1 430.3L454.7 436.9M448.1 436.9L454.7 430.3" fill="none" stroke="#000" stroke-width="1.3"/>
<path d="M459.4 428.5L466 435.1M459.4 435.1L466 428.5" fill="none" stroke="#000" stroke-width="1.3"/>
<path d="M473 426.9L479.6 433.5M473 433.5L479.6 426.9" fill="none" stroke="#000" stroke-width="1.3"/>
<path d="M497.6 443.3L504.2 449.9M497.6 449.9L504.2 443.3" fill="none" stroke="#000" stroke-width="1.3"/>
<path d="M521.7 458.6L528.3 465.2M521.7 465.2L528.3 458.6" fill="none" stroke="#000" stroke-width="1.3"/>
<path d="M546.2 473.9L552.8 480.5M546.2 480.5L552.8 473.9" fill="none" stroke="#000" stroke-width="1.3"/>
<path d="M570.3 489.2L576.9 495.8M570.3 495.8L576.9 489.2" fill="none" stroke="#000" stroke-width="1.3"/>
<path d="M594.8 504.1L601.4 510.7M594.8 510.7L601.4 504.1" fill="none" stroke="#000" stroke-width="1.3"/>
<path d="M668.8 506.6L675.4 513.2M668.8 513.2L675.4 506.6" fill="none" stroke="#000" stroke-width="1.3"/>
<rect x="417" y="380" width="264.2" height="170.7" fill="none" stroke="#333" stroke-width="1.8"/>
<text x="407.6" y="383.9" text-anchor="end" font-size="11.6" fill="#1a1a1a">+50%</text>
<text x="407.6" y="412.35" text-anchor="end" font-size="11.6" fill="#1a1a1a">+25%</text>
<text x="407.6" y="440.8" text-anchor="end" font-size="11.6" fill="#1a1a1a">0%</text>
<text x="407.6" y="469.25" text-anchor="end" font-size="11.6" fill="#1a1a1a">-25%</text>
<text x="407.6" y="497.7" text-anchor="end" font-size="11.6" fill="#1a1a1a">-50%</text>
<text x="407.6" y="526.15" text-anchor="end" font-size="11.6" fill="#1a1a1a">-75%</text>
<text x="407.6" y="554.6" text-anchor="end" font-size="11.6" fill="#1a1a1a">-100%</text>
<text x="417" y="567.4" text-anchor="middle" font-size="11.6" fill="#1a1a1a">148</text>
<text x="452.23" y="567.4" text-anchor="middle" font-size="11.6" fill="#1a1a1a">150</text>
<text x="487.45" y="567.4" text-anchor="middle" font-size="11.6" fill="#1a1a1a">152</text>
<text x="522.68" y="567.4" text-anchor="middle" font-size="11.6" fill="#1a1a1a">154</text>
<text x="557.91" y="567.4" text-anchor="middle" font-size="11.6" fill="#1a1a1a">156</text>
<text x="593.13" y="567.4" text-anchor="middle" font-size="11.6" fill="#1a1a1a">158</text>
<text x="628.36" y="567.4" text-anchor="middle" font-size="11.6" fill="#1a1a1a">160</text>
<text x="663.59" y="567.4" text-anchor="middle" font-size="11.6" fill="#1a1a1a">162</text>
<text x="359.8" y="359.9" font-size="16.5" font-weight="bold">D</text>
<text x="496.2" y="361.9" font-size="19.7">iLUC</text>
<text x="485.1" y="589.3" font-size="13.9" fill="#000">Cost (DKK/100FE<tspan font-size="10.01" dy="3.2">sv</tspan><tspan dy="-3.2">)</tspan></text>
<text transform="translate(368 472.9) rotate(-90)" text-anchor="middle" font-size="14" fill="#000">GWP (relative change)*</text>
<path d="M76.5 653V900.2M93.5 653V900.2M111.5 653V900.2M129.5 653V900.2M147.5 653V900.2M164.5 653V900.2M182.5 653V900.2M200.5 653V900.2M218.5 653V900.2M235.5 653V900.2M253.5 653V900.2M271.5 653V900.2M289.5 653V900.2M306.5 653V900.2M58.3 668.5H324.6M58.3 707.5H324.6M58.3 784.5H324.6M58.3 822.5H324.6M58.3 861.5H324.6" stroke="#9e9e9e" stroke-width="1.05" stroke-dasharray="2.2 1.3" fill="none"/>
<path d="M58.3 745.7H324.6" stroke="#c2c2c2" stroke-width="1.3" fill="none"/>
<path d="M68.8 793.7C71.03 788.67 78.58 772.38 82.2 763.5C85.82 754.62 88.33 746.1 90.5 740.4C92.67 734.7 93.63 732.78 95.2 729.3C96.77 725.82 97.63 721.77 99.9 719.5C102.17 717.23 105.75 716.97 108.8 715.7C111.85 714.43 114.87 712.97 118.2 711.9C121.53 710.83 124.17 708.55 128.8 709.3C133.43 710.05 136.5 710.95 146 716.4C155.5 721.85 168.97 735.2 185.8 742C202.63 748.8 228.08 763.57 247 757.2C265.92 750.83 290.58 712.7 299.3 703.8" fill="none" stroke="#000" stroke-width="1.9" stroke-dasharray="2 2.1"/>
<path d="M69.2 746C71.27 742.2 78.18 729.45 81.6 723.2C85.02 716.95 87.48 712.25 89.7 708.5C91.92 704.75 93.37 702.78 94.9 700.7C96.43 698.62 96.52 695.08 98.9 696C101.28 696.92 105.92 702.42 109.2 706.2C112.48 709.98 115.27 710.73 118.6 718.7C121.93 726.67 124.63 749.33 129.2 754C133.77 758.67 136.57 749.73 146 746.7C155.43 743.67 168.97 733.1 185.8 735.8C202.63 738.5 228.08 756.68 247 762.9C265.92 769.12 290.58 771.4 299.3 773.1" fill="none" stroke="#000" stroke-width="1.6" stroke-dasharray="5 4.5"/>
<path d="M68.9 809.4C71.12 801.92 78.73 776.85 82.2 764.5C85.67 752.15 87.67 742.58 89.7 735.3C91.73 728.02 92.7 725.42 94.4 720.8C96.1 716.18 97.43 710.08 99.9 707.6C102.37 705.12 106.08 706.38 109.2 705.9C112.32 705.42 115.33 702.35 118.6 704.7C121.87 707.05 124.23 715.9 128.8 720C133.37 724.1 136.5 723.42 146 729.3C155.5 735.18 168.97 746.77 185.8 755.3C202.63 763.83 228.08 787 247 780.5C265.92 774 290.58 727 299.3 716.3" fill="none" stroke="#000" stroke-width="1.6" stroke-dasharray="4 2"/>
<path d="M69.2 774C71.37 768.28 78.65 749.13 82.2 739.7C85.75 730.27 88.37 723.52 90.5 717.4C92.63 711.28 93.42 706.67 95 703C96.58 699.33 97.63 697.47 100 695.4C102.37 693.33 106.1 692.25 109.2 690.6C112.3 688.95 115.33 684.22 118.6 685.5C121.87 686.78 124.23 692.98 128.8 698.3C133.37 703.62 136.5 709.62 146 717.4C155.5 725.18 168.97 740.67 185.8 745C202.63 749.33 228.08 756.65 247 743.4C265.92 730.15 290.58 678.48 299.3 665.5" fill="none" stroke="#000" stroke-width="1.6" stroke-dasharray="10 5"/>
<path d="M82.2 787C83.63 790.4 88.62 802.23 90.8 807.4C92.98 812.57 93.83 814.53 95.3 818C96.77 821.47 97.28 824.78 99.6 828.2C101.92 831.62 106 835.08 109.2 838.5C112.4 841.92 115.47 845.23 118.8 848.7C122.13 852.17 124.67 855.83 129.2 859.3C133.73 862.77 136.57 866.1 146 869.5C155.43 872.9 168.87 876.35 185.8 879.7C202.73 883.05 228.63 886.2 247.6 889.6C266.57 893 290.93 898.35 299.6 900.1" fill="none" stroke="#000" stroke-width="1.5" stroke-dasharray="5.6 4 1.3 4.4"/>
<circle cx="68.8" cy="793.7" r="3.4" fill="none" stroke="#000" stroke-width="1.45"/>
<circle cx="82.2" cy="763.5" r="3.4" fill="none" stroke="#000" stroke-width="1.45"/>
<circle cx="90.5" cy="740.4" r="3.4" fill="none" stroke="#000" stroke-width="1.45"/>
<circle cx="95.2" cy="729.3" r="3.4" fill="none" stroke="#000" stroke-width="1.45"/>
<circle cx="99.9" cy="719.5" r="3.4" fill="none" stroke="#000" stroke-width="1.45"/>
<circle cx="108.8" cy="715.7" r="3.4" fill="none" stroke="#000" stroke-width="1.45"/>
<circle cx="118.2" cy="711.9" r="3.4" fill="none" stroke="#000" stroke-width="1.45"/>
<circle cx="128.8" cy="709.3" r="3.4" fill="none" stroke="#000" stroke-width="1.45"/>
<circle cx="146" cy="716.4" r="3.4" fill="none" stroke="#000" stroke-width="1.45"/>
<circle cx="185.8" cy="742" r="3.4" fill="none" stroke="#000" stroke-width="1.45"/>
<circle cx="247" cy="757.2" r="3.4" fill="none" stroke="#000" stroke-width="1.45"/>
<circle cx="299.3" cy="703.8" r="3.4" fill="none" stroke="#000" stroke-width="1.45"/>
<path d="M69.2 742.2L73 746L69.2 749.8L65.4 746Z" fill="none" stroke="#000" stroke-width="1.45"/>
<path d="M81.6 719.4L85.4 723.2L81.6 727L77.8 723.2Z" fill="none" stroke="#000" stroke-width="1.45"/>
<path d="M89.7 704.7L93.5 708.5L89.7 712.3L85.9 708.5Z" fill="none" stroke="#000" stroke-width="1.45"/>
<path d="M94.9 696.9L98.7 700.7L94.9 704.5L91.1 700.7Z" fill="none" stroke="#000" stroke-width="1.45"/>
<path d="M98.9 692.2L102.7 696L98.9 699.8L95.1 696Z" fill="none" stroke="#000" stroke-width="1.45"/>
<path d="M109.2 702.4L113 706.2L109.2 710L105.4 706.2Z" fill="none" stroke="#000" stroke-width="1.45"/>
<path d="M118.6 714.9L122.4 718.7L118.6 722.5L114.8 718.7Z" fill="none" stroke="#000" stroke-width="1.45"/>
<path d="M129.2 750.2L133 754L129.2 757.8L125.4 754Z" fill="none" stroke="#000" stroke-width="1.45"/>
<path d="M146 742.9L149.8 746.7L146 750.5L142.2 746.7Z" fill="none" stroke="#000" stroke-width="1.45"/>
<path d="M185.8 732L189.6 735.8L185.8 739.6L182 735.8Z" fill="none" stroke="#000" stroke-width="1.45"/>
<path d="M247 759.1L250.8 762.9L247 766.7L243.2 762.9Z" fill="none" stroke="#000" stroke-width="1.45"/>
<path d="M299.3 769.3L303.1 773.1L299.3 776.9L295.5 773.1Z" fill="none" stroke="#000" stroke-width="1.45"/>
<rect x="66.25" y="806.75" width="5.3" height="5.3" fill="none" stroke="#000" stroke-width="1.45"/>
<rect x="79.55" y="761.85" width="5.3" height="5.3" fill="none" stroke="#000" stroke-width="1.45"/>
<rect x="87.05" y="732.65" width="5.3" height="5.3" fill="none" stroke="#000" stroke-width="1.45"/>
<rect x="91.75" y="718.15" width="5.3" height="5.3" fill="none" stroke="#000" stroke-width="1.45"/>
<rect x="97.25" y="704.95" width="5.3" height="5.3" fill="none" stroke="#000" stroke-width="1.45"/>
<rect x="106.55" y="703.25" width="5.3" height="5.3" fill="none" stroke="#000" stroke-width="1.45"/>
<rect x="115.95" y="702.05" width="5.3" height="5.3" fill="none" stroke="#000" stroke-width="1.45"/>
<rect x="126.15" y="717.35" width="5.3" height="5.3" fill="none" stroke="#000" stroke-width="1.45"/>
<rect x="143.35" y="726.65" width="5.3" height="5.3" fill="none" stroke="#000" stroke-width="1.45"/>
<rect x="183.15" y="752.65" width="5.3" height="5.3" fill="none" stroke="#000" stroke-width="1.45"/>
<rect x="244.35" y="777.85" width="5.3" height="5.3" fill="none" stroke="#000" stroke-width="1.45"/>
<rect x="296.65" y="713.65" width="5.3" height="5.3" fill="none" stroke="#000" stroke-width="1.45"/>
<path d="M69.2 770.7L72.7 777.1L65.7 777.1Z" fill="none" stroke="#000" stroke-width="1.45" stroke-linejoin="miter"/>
<path d="M82.2 736.4L85.7 742.8L78.7 742.8Z" fill="none" stroke="#000" stroke-width="1.45" stroke-linejoin="miter"/>
<path d="M90.5 714.1L94 720.5L87 720.5Z" fill="none" stroke="#000" stroke-width="1.45" stroke-linejoin="miter"/>
<path d="M95 699.7L98.5 706.1L91.5 706.1Z" fill="none" stroke="#000" stroke-width="1.45" stroke-linejoin="miter"/>
<path d="M100 692.1L103.5 698.5L96.5 698.5Z" fill="none" stroke="#000" stroke-width="1.45" stroke-linejoin="miter"/>
<path d="M109.2 687.3L112.7 693.7L105.7 693.7Z" fill="none" stroke="#000" stroke-width="1.45" stroke-linejoin="miter"/>
<path d="M118.6 682.2L122.1 688.6L115.1 688.6Z" fill="none" stroke="#000" stroke-width="1.45" stroke-linejoin="miter"/>
<path d="M128.8 695L132.3 701.4L125.3 701.4Z" fill="none" stroke="#000" stroke-width="1.45" stroke-linejoin="miter"/>
<path d="M146 714.1L149.5 720.5L142.5 720.5Z" fill="none" stroke="#000" stroke-width="1.45" stroke-linejoin="miter"/>
<path d="M185.8 741.7L189.3 748.1L182.3 748.1Z" fill="none" stroke="#000" stroke-width="1.45" stroke-linejoin="miter"/>
<path d="M247 740.1L250.5 746.5L243.5 746.5Z" fill="none" stroke="#000" stroke-width="1.45" stroke-linejoin="miter"/>
<path d="M299.3 662.2L302.8 668.6L295.8 668.6Z" fill="none" stroke="#000" stroke-width="1.45" stroke-linejoin="miter"/>
<path d="M78.9 783.7L85.5 790.3M78.9 790.3L85.5 783.7" fill="none" stroke="#000" stroke-width="1.3"/>
<path d="M87.5 804.1L94.1 810.7M87.5 810.7L94.1 804.1" fill="none" stroke="#000" stroke-width="1.3"/>
<path d="M92 814.7L98.6 821.3M92 821.3L98.6 814.7" fill="none" stroke="#000" stroke-width="1.3"/>
<path d="M96.3 824.9L102.9 831.5M96.3 831.5L102.9 824.9" fill="none" stroke="#000" stroke-width="1.3"/>
<path d="M105.9 835.2L112.5 841.8M105.9 841.8L112.5 835.2" fill="none" stroke="#000" stroke-width="1.3"/>
<path d="M115.5 845.4L122.1 852M115.5 852L122.1 845.4" fill="none" stroke="#000" stroke-width="1.3"/>
<path d="M125.9 856L132.5 862.6M125.9 862.6L132.5 856" fill="none" stroke="#000" stroke-width="1.3"/>
<path d="M142.7 866.2L149.3 872.8M142.7 872.8L149.3 866.2" fill="none" stroke="#000" stroke-width="1.3"/>
<path d="M182.5 876.4L189.1 883M182.5 883L189.1 876.4" fill="none" stroke="#000" stroke-width="1.3"/>
<path d="M244.3 886.3L250.9 892.9M244.3 892.9L250.9 886.3" fill="none" stroke="#000" stroke-width="1.3"/>
<path d="M296.3 896.8L302.9 903.4M296.3 903.4L302.9 896.8" fill="none" stroke="#000" stroke-width="1.3"/>
<defs><pattern id="hat" patternUnits="userSpaceOnUse" width="5.6" height="5.6" patternTransform="rotate(-45 272.8 700)"><rect width="5.6" height="5.6" fill="#fff"/><rect width="5.6" height="2.0" fill="#b4b4b4"/></pattern></defs>
<rect x="268.8" y="654" width="7.6" height="240" fill="url(#hat)"/>
<rect x="58.3" y="653" width="266.3" height="247.2" fill="none" stroke="#333" stroke-width="1.8"/>
<path d="M272.5 647L268.2 661.6M278.6 647L274.5 660.9M271.5 893.1L267 908.3M277.6 893.1L273 908.3" stroke="#000" stroke-width="1.2" fill="none"/>
<text x="48.6" y="672.35" text-anchor="end" font-size="11.6" fill="#1a1a1a">+50%</text>
<text x="48.6" y="710.98" text-anchor="end" font-size="11.6" fill="#1a1a1a">+25%</text>
<text x="48.6" y="749.6" text-anchor="end" font-size="11.6" fill="#1a1a1a">0%</text>
<text x="48.6" y="788.23" text-anchor="end" font-size="11.6" fill="#1a1a1a">-25%</text>
<text x="48.6" y="826.85" text-anchor="end" font-size="11.6" fill="#1a1a1a">-50%</text>
<text x="48.6" y="865.48" text-anchor="end" font-size="11.6" fill="#1a1a1a">-75%</text>
<text x="48.6" y="904.1" text-anchor="end" font-size="11.6" fill="#1a1a1a">-100%</text>
<text x="58.3" y="917.2" text-anchor="middle" font-size="11.6" fill="#1a1a1a">148</text>
<text x="93.81" y="917.2" text-anchor="middle" font-size="11.6" fill="#1a1a1a">150</text>
<text x="129.31" y="917.2" text-anchor="middle" font-size="11.6" fill="#1a1a1a">152</text>
<text x="164.82" y="917.2" text-anchor="middle" font-size="11.6" fill="#1a1a1a">154</text>
<text x="200.33" y="917.2" text-anchor="middle" font-size="11.6" fill="#1a1a1a">156</text>
<text x="235.83" y="917.2" text-anchor="middle" font-size="11.6" fill="#1a1a1a">158</text>
<text x="271.34" y="917.2" text-anchor="middle" font-size="11.6" fill="#1a1a1a">168</text>
<text x="306.85" y="917.2" text-anchor="middle" font-size="11.6" fill="#1a1a1a">170</text>
<text x="2.8" y="630.8" font-size="16.5" font-weight="bold">E</text>
<text x="162.8" y="634.2" text-anchor="middle" font-size="19.7">COC</text>
<text x="113.5" y="935.6" font-size="13.9" fill="#000">Cost (DKK/100FE<tspan font-size="10.01" dy="3.2">sv</tspan><tspan dy="-3.2">)</tspan></text>
<text transform="translate(10.5 775.7) rotate(-90)" text-anchor="middle" font-size="14" fill="#000">GWP (relative change)*</text>
<rect x="445.7" y="652.7" width="198.5" height="250.1" fill="none" stroke="#000" stroke-width="1.5"/>
<path d="M498 688.5H534.5" stroke="#000" stroke-width="1.9" stroke-dasharray="2 2.1" fill="none"/>
<circle cx="516.3" cy="688.5" r="3.4" fill="none" stroke="#000" stroke-width="1.5"/>
<text x="537.8" y="692.8" font-size="12.6">No LUC</text>
<path d="M498 734.5H534.5" stroke="#000" stroke-width="1.6" stroke-dasharray="5 4.5" fill="none"/>
<path d="M516.3 731L519.34 734.5L516.3 738L513.26 734.5Z" fill="none" stroke="#000" stroke-width="1.4"/>
<text x="537.8" y="738.8" font-size="12.6">dLUCa</text>
<path d="M498 780.3H534.5" stroke="#000" stroke-width="1.6" stroke-dasharray="4 2" fill="none"/>
<rect x="513.65" y="777.65" width="5.3" height="5.3" fill="none" stroke="#000" stroke-width="1.5"/>
<text x="537.8" y="784.6" font-size="12.6">dLUCb</text>
<path d="M498 826.5H534.5" stroke="#000" stroke-width="1.6" stroke-dasharray="11 4.5" fill="none"/>
<path d="M516.3 823.46L519.52 829.35L513.08 829.35Z" fill="none" stroke="#000" stroke-width="1.4" stroke-linejoin="miter"/>
<text x="537.8" y="830.8" font-size="12.6">iLUC</text>
<path d="M498 872.7H534.5" stroke="#000" stroke-width="1.5" stroke-dasharray="5.6 4 1.3 4.4" fill="none"/>
<path d="M513 869.4L519.6 876M513 876L519.6 869.4" fill="none" stroke="#000" stroke-width="1.8"/>
<text x="537.8" y="877" font-size="12.6">COC</text>
</svg></body></html>
